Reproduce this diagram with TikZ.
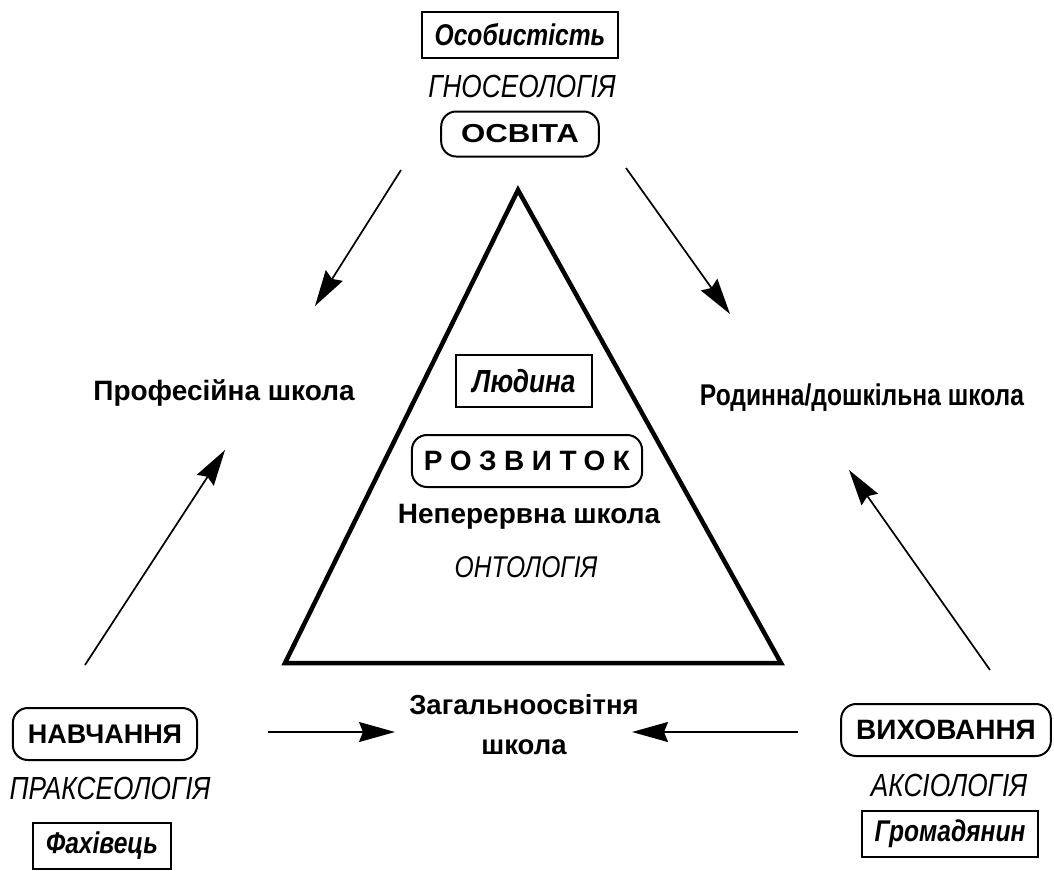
\documentclass[tikz,border=0pt]{standalone}
\usepackage{fontspec}
\setmainfont{Liberation Sans}
\newfontfamily\narrowfont[FakeStretch=0.82]{Liberation Sans}
\newfontfamily\widefont[FakeStretch=1.2]{Liberation Sans}
\newfontfamily\spacedfont[LetterSpace=27]{Liberation Sans}
\usetikzlibrary{arrows.meta}

\begin{document}
\begin{tikzpicture}[x=1pt, y=-1pt, >={Stealth[length=36pt, width=20pt, inset=4pt]},
  every node/.style={font=\fontsize{28}{33}\selectfont\bfseries},
  pillbox/.style={draw, line width=2pt, rounded corners=15pt, inner xsep=15pt, minimum height=52pt},
  namebox/.style={draw, line width=2pt, inner xsep=13pt, minimum height=46pt, font=\narrowfont\fontsize{30}{34}\selectfont\bfseries\itshape},
  science/.style={font=\narrowfont\fontsize{32}{36}\selectfont\itshape},
  flow/.style={->, line width=1.7pt}]
\path[use as bounding box] (0,0) rectangle (1054,870);
% triangle
\coordinate (apex) at (518,190);
\coordinate (bl) at (285,663);
\coordinate (br) at (781,663);
\draw[line width=4.5pt, line join=miter] (apex) -- (bl) -- (br) -- cycle;
% top corner
\node[namebox] (person) at (520,35) {Особистість};
\node[science] (gnos) at (522,86) {ГНОСЕОЛОГІЯ};
\node[pillbox, minimum height=45pt, inner xsep=20pt, font=\widefont\fontsize{26}{30}\selectfont\bfseries] (osvita) at (520,134) {ОСВІТА};
% left corner
\node[pillbox, font=\fontsize{27}{31}\selectfont\bfseries] (navch) at (105,734) {НАВЧАННЯ};
\node[science] (prax) at (110,788) {ПРАКСЕОЛОГІЯ};
\node[namebox] (fakh) at (102,846) {Фахівець};
% right corner
\node[pillbox] (vykh) at (946,730) {ВИХОВАННЯ};
\node[science] (aks) at (949,785) {АКСІОЛОГІЯ};
\node[namebox] (hrom) at (950,834) {Громадянин};
% centre
\node[namebox, minimum height=52pt, inner xsep=16pt, font=\narrowfont\fontsize{32}{36}\selectfont\bfseries\itshape] (man) at (524,381) {Людина};
\node[pillbox, inner xsep=12pt, font=\spacedfont\fontsize{28}{32}\selectfont\bfseries] (rozv) at (527,461) {РОЗВИТОК};
\node (cont) at (529,517) {Неперервна школа};
\node[science, font=\narrowfont\fontsize{30}{34}\selectfont\itshape] (ont) at (526,567) {ОНТОЛОГІЯ};
% schools
\node (prof) at (224,393) {Професійна школа};
\node[font=\narrowfont\fontsize{30}{34}\selectfont\bfseries] (fam) at (862,398) {Родинна/дошкільна школа};
\node[align=center, font=\fontsize{27.5}{40}\selectfont\bfseries] (gen) at (524,725) {Загальноосвітня\\школа};
% arrows
\coordinate (a1) at (401,170);
\coordinate (a2) at (315,306);
\coordinate (b1) at (626,168);
\coordinate (b2) at (730,314);
\coordinate (c1) at (85,665);
\coordinate (c2) at (225,450);
\coordinate (d1) at (990,670);
\coordinate (d2) at (849,470);
\coordinate (e1) at (268,732);
\coordinate (e2) at (395,732);
\coordinate (f1) at (798,732);
\coordinate (f2) at (632,732);
\draw[flow] (a1) -- (a2);
\draw[flow] (b1) -- (b2);
\draw[flow] (c1) -- (c2);
\draw[flow] (d1) -- (d2);
\draw[flow] (e1) -- (e2);
\draw[flow] (f1) -- (f2);
\end{tikzpicture}
\end{document}
